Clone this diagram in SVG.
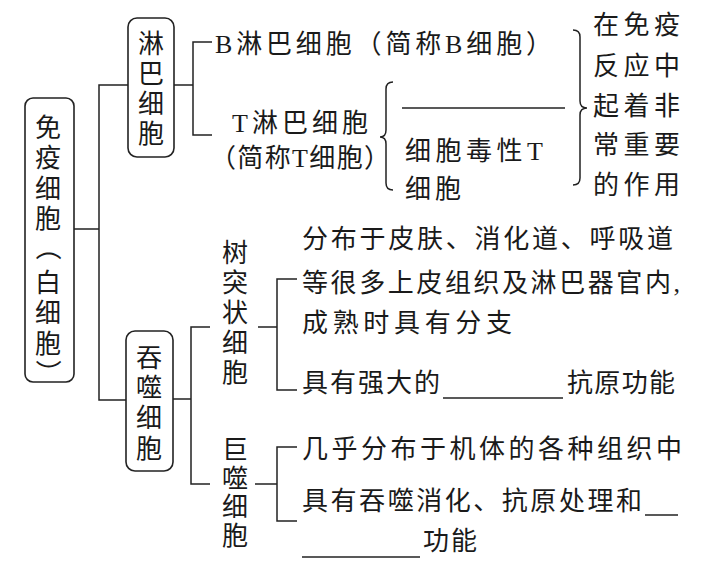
<svg xmlns="http://www.w3.org/2000/svg" width="703" height="565" viewBox="0 0 703 565">
<style>
.t{font-family:"Liberation Serif","Noto Sans CJK SC",serif;font-size:26px;fill:#1a1a1a}
.v{font-family:"Noto Sans CJK SC","Liberation Serif",serif;font-size:26px;fill:#1a1a1a;writing-mode:vertical-rl}
.p{font-family:"Noto Sans CJK SC",sans-serif;font-size:26px;fill:#1a1a1a;text-anchor:middle}
.box{fill:none;stroke:#222;stroke-width:1.6}
.ln{fill:none;stroke:#222;stroke-width:1.5}
</style>
<rect width="703" height="565" fill="#fff"/>
<g id="connectors">
<path class="ln" d="M74,229 H99 M128,85 H99 V400 H126"/>
<path class="ln" d="M174,85 H193 M212,42 H193 V135 H212"/>
<path class="ln" d="M173,399 H191 M210,327 H191 V484 H210"/>
<path class="ln" d="M258,327 H277 M297,279 H277 V390 H297"/>
<path class="ln" d="M255,484 H277 M297,447 H277 V521 H297"/>
<path class="ln" d="M393,82 Q386,82 386,89 V130 Q386,137 380,137 Q386,137 386,144 V183 Q386,190 393,190"/>
<path class="ln" d="M573,30 Q580,30 580,37 V101 Q580,108 587,108 Q580,108 580,115 V178 Q580,185 573,185"/>
</g>
<g id="immune-cells">
<rect class="box" x="25" y="98" width="49" height="284" rx="8"/>
<text class="v" x="48" y="114" style="letter-spacing:4.5px">免疫细胞</text>
<text class="p" x="42.5" y="262.5" transform="rotate(90 48 253)">（</text>
<text class="v" x="48" y="269" style="letter-spacing:4.5px">白细胞</text>
<text class="p" x="53.5" y="376.5" transform="rotate(90 48 367)">）</text>
</g>
<g id="lymphocyte">
<rect class="box" x="128" y="18" width="46" height="139" rx="9"/>
<text class="v" x="151" y="30" style="letter-spacing:4px">淋巴细胞</text>
</g>
<g id="b-cell">
<text class="t" x="215" y="53" textLength="337" lengthAdjust="spacing">B淋巴细胞（简称B细胞）</text>
</g>
<g id="t-cell">
<text class="t" x="232" y="132" textLength="136" lengthAdjust="spacing">T淋巴细胞</text>
<text class="t" x="210" y="167" textLength="180" lengthAdjust="spacing">（简称T细胞）</text>
</g>
<g id="t-subtypes">
<line class="ln" x1="402" y1="108" x2="565" y2="108"/>
<text class="t" x="405" y="160" textLength="138" lengthAdjust="spacing">细胞毒性T</text>
<text class="t" x="405" y="198" textLength="56" lengthAdjust="spacing">细胞</text>
</g>
<g id="role">
<text class="t" x="593" y="34" textLength="87" lengthAdjust="spacing">在免疫</text>
<text class="t" x="593" y="75" textLength="87" lengthAdjust="spacing">反应中</text>
<text class="t" x="593" y="115" textLength="87" lengthAdjust="spacing">起着非</text>
<text class="t" x="593" y="154" textLength="87" lengthAdjust="spacing">常重要</text>
<text class="t" x="593" y="194" textLength="87" lengthAdjust="spacing">的作用</text>
</g>
<g id="phagocyte">
<rect class="box" x="126" y="331" width="47" height="140" rx="9"/>
<text class="v" x="149" y="344" style="letter-spacing:4.3px">吞噬细胞</text>
</g>
<g id="dendritic">
<text class="v" x="235" y="239" style="letter-spacing:4px">树突状细胞</text>
</g>
<g id="dendritic-desc">
<text class="t" x="302" y="248" textLength="371" lengthAdjust="spacing">分布于皮肤、消化道、呼吸道</text>
<text class="t" x="302" y="292" textLength="378" lengthAdjust="spacing">等很多上皮组织及淋巴器官内,</text>
<text class="t" x="302" y="332" textLength="210" lengthAdjust="spacing">成熟时具有分支</text>
<text class="t" x="302" y="392" textLength="138" lengthAdjust="spacing">具有强大的</text>
<line class="ln" x1="443" y1="398" x2="563" y2="398"/>
<text class="t" x="567" y="392" textLength="108" lengthAdjust="spacing">抗原功能</text>
</g>
<g id="macrophage">
<text class="v" x="235" y="436" style="letter-spacing:2.7px">巨噬细胞</text>
</g>
<g id="macrophage-desc">
<text class="t" x="302" y="458" textLength="380" lengthAdjust="spacing">几乎分布于机体的各种组织中</text>
<text class="t" x="302" y="510" textLength="340" lengthAdjust="spacing">具有吞噬消化、抗原处理和</text>
<line class="ln" x1="645" y1="515" x2="678" y2="515"/>
<line class="ln" x1="302" y1="557" x2="420" y2="557"/>
<text class="t" x="423" y="550" textLength="54" lengthAdjust="spacing">功能</text>
</g>
</svg>
